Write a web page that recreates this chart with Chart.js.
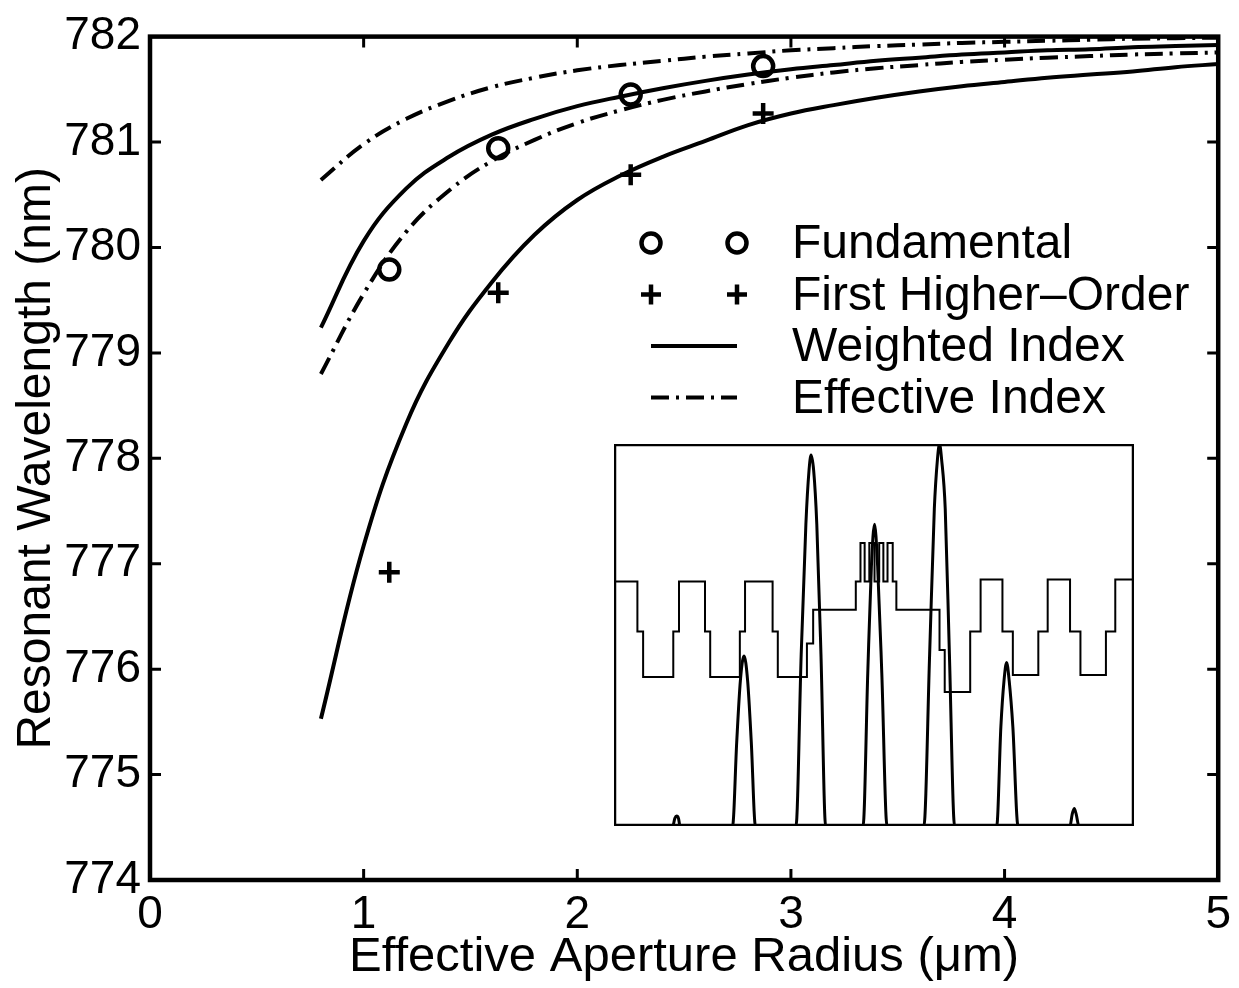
<!DOCTYPE html>
<html>
<head>
<meta charset="utf-8">
<script src="https://cdn.jsdelivr.net/npm/chart.js@4.4.1/dist/chart.umd.min.js"></script>
<style>
  body { margin: 0; background: #fff; }
  #wrap { position: relative; width: 1239px; height: 988px; }
  #main { position: absolute; left: 0; top: 0; }
  #inset { position: absolute; left: 614px; top: 444px; background: #fff; }
</style>
</head>
<body>
<div id="wrap">
  <canvas id="main" width="1239" height="988"></canvas>
  <canvas id="inset" width="520" height="382"></canvas>
</div>
<script>
// measured points
var fundX = [1.12, 1.63, 2.25, 2.87];
var fundY = [779.79, 780.94, 781.45, 781.72];
var higherX = [1.12, 1.63, 2.25, 2.87];
var higherY = [776.92, 779.57, 780.69, 781.27];

// model curves, read every 0.2 um
var curveX        = [0.8, 1.0, 1.2, 1.4, 1.6, 1.8, 2.0, 2.2, 2.4, 2.6, 2.8, 3.0, 3.2, 3.4, 3.6, 3.8, 4.0, 4.2, 4.4, 4.6, 4.8, 5.0];
var weightedFund  = [779.24, 780.06, 780.56, 780.86, 781.07, 781.22, 781.34, 781.43, 781.51, 781.58, 781.64, 781.69, 781.73, 781.77, 781.80, 781.83, 781.85, 781.87, 781.88, 781.90, 781.91, 781.92];
var weightedHigh  = [775.53, 777.17, 778.33, 779.10, 779.67, 780.12, 780.45, 780.68, 780.86, 781.01, 781.16, 781.27, 781.35, 781.42, 781.48, 781.53, 781.57, 781.61, 781.64, 781.67, 781.71, 781.74];
var effectiveFund = [780.64, 780.98, 781.22, 781.39, 781.52, 781.61, 781.68, 781.73, 781.77, 781.81, 781.84, 781.87, 781.89, 781.91, 781.925, 781.94, 781.95, 781.96, 781.97, 781.98, 781.985, 781.99];
var effectiveHigh = [778.80, 779.56, 780.15, 780.54, 780.82, 781.02, 781.18, 781.30, 781.40, 781.48, 781.55, 781.61, 781.66, 781.70, 781.73, 781.76, 781.78, 781.80, 781.815, 781.83, 781.84, 781.85];

var xTicks = [0, 1, 2, 3, 4, 5];
var yTicks = [774, 775, 776, 777, 778, 779, 780, 781, 782];
var legendLabels = ['Fundamental', 'First Higher\u2013Order', 'Weighted Index', 'Effective Index'];
var xTitle = 'Effective Aperture Radius (\u03bcm)';
var yTitle = 'Resonant Wavelength (nm)';

// inset: index profile (steps) and mode intensity, arbitrary units 0..100
var profileX = [0, 4.5, 4.5, 5.6, 5.6, 11.4, 11.4, 12.5, 12.5, 17.5, 17.5, 18.5, 18.5, 24.2, 24.2, 25.2, 25.2, 30.5, 30.5, 31.5, 31.5, 37.1, 37.1, 38.3, 38.3, 46.5, 46.5, 47.4, 47.4, 48.2, 48.2, 49.1, 49.1, 50.1, 50.1, 51.0, 51.0, 51.8, 51.8, 52.6, 52.6, 53.6, 53.6, 54.3, 54.3, 62.6, 62.6, 63.6, 63.6, 68.5, 68.5, 70.5, 70.5, 74.7, 74.7, 76.7, 76.7, 81.6, 81.6, 83.4, 83.4, 87.7, 87.7, 89.7, 89.7, 94.6, 94.6, 96.4, 96.4, 100];
var profileY = [64, 64, 50.9, 50.9, 39, 39, 50.9, 50.9, 64, 64, 50.9, 50.9, 39, 39, 50.9, 50.9, 64, 64, 50.9, 50.9, 39, 39, 47.8, 47.8, 56.6, 56.6, 64, 64, 74.1, 74.1, 64, 64, 74.1, 74.1, 64, 64, 74.1, 74.1, 64, 64, 74.1, 74.1, 64, 64, 56.6, 56.6, 46.1, 46.1, 35.1, 35.1, 50.9, 50.9, 64.5, 64.5, 50.9, 50.9, 39.5, 39.5, 50.9, 50.9, 64.5, 64.5, 50.9, 50.9, 39.5, 39.5, 50.9, 50.9, 64.5, 64.5];
var modeX = [0, 11.3, 11.7, 12.05, 12.4, 12.7, 22.8, 23.6, 24.3, 25.0, 25.7, 26.4, 27.2, 35.0, 36.0, 36.9, 37.5, 37.9, 38.4, 39.0, 39.8, 40.7, 47.9, 48.8, 49.5, 50.1, 50.7, 51.5, 52.5, 59.6, 60.7, 61.6, 62.2, 62.6, 63.0, 63.7, 64.5, 65.5, 73.6, 74.4, 75.0, 75.5, 76.0, 76.7, 77.7, 87.7, 88.1, 88.5, 88.9, 89.4, 100];
var modeY = [0, 0, 2.0, 2.6, 2.0, 0, 0, 22.0, 38.0, 44.5, 38.0, 22.0, 0, 0, 45.0, 79.0, 93.0, 97.1, 93.0, 79.0, 45.0, 0, 0, 40.0, 68.0, 79.0, 68.0, 40.0, 0, 0, 45.0, 83.0, 96.0, 100, 96.0, 83.0, 45.0, 0, 0, 26.0, 38.0, 42.8, 38.0, 26.0, 0, 0, 3.0, 4.6, 3.0, 0, 0];

var FONT = '"Liberation Sans", Arial, Helvetica, sans-serif';
var DASHDOT = [18, 7, 3, 7];

function pts(xs, ys) {
    return xs.map(function (x, i) { return { x: x, y: ys[i] }; });
}

function curve(label, ys, dash) {
    return {
        label: label,
        data: pts(curveX, ys),
        showLine: true,
        borderColor: '#000',
        borderWidth: 4,
        borderDash: dash,
        pointRadius: 0,
        tension: 0.4,
        fill: false
    };
}

// box + inward ticks on all four sides
var framePlugin = {
    id: 'frame',
    afterDraw: function (chart) {
        var ctx = chart.ctx, a = chart.chartArea;
        var sx = chart.scales.x, sy = chart.scales.y;
        ctx.save();
        ctx.strokeStyle = '#000';
        ctx.lineWidth = 3;
        xTicks.forEach(function (v) {
            var px = sx.getPixelForValue(v);
            ctx.beginPath();
            ctx.moveTo(px, a.bottom); ctx.lineTo(px, a.bottom - 11);
            ctx.moveTo(px, a.top); ctx.lineTo(px, a.top + 11);
            ctx.stroke();
        });
        yTicks.forEach(function (v) {
            var py = sy.getPixelForValue(v);
            ctx.beginPath();
            ctx.moveTo(a.left, py); ctx.lineTo(a.left + 11, py);
            ctx.moveTo(a.right, py); ctx.lineTo(a.right - 11, py);
            ctx.stroke();
        });
        ctx.lineWidth = 4.5;
        ctx.strokeRect(a.left, a.top, a.right - a.left, a.bottom - a.top);
        ctx.restore();
    }
};

// matlab-style legend with no box
var legendPlugin = {
    id: 'mlegend',
    afterDatasetsDraw: function (chart) {
        var ctx = chart.ctx;
        var x1 = 651, x2 = 737, tx = 792;
        ctx.save();
        ctx.strokeStyle = '#000';
        ctx.fillStyle = '#000';
        ctx.font = '48px ' + FONT;
        ctx.textBaseline = 'middle';
        legendLabels.forEach(function (label, i) {
            var y = 243 + i * 51.5;
            ctx.setLineDash([]);
            ctx.lineWidth = 4.5;
            if (i === 0) {
                [x1, x2].forEach(function (x) {
                    ctx.beginPath(); ctx.arc(x, y, 9.5, 0, Math.PI * 2); ctx.stroke();
                });
            } else if (i === 1) {
                [x1, x2].forEach(function (x) {
                    ctx.beginPath();
                    ctx.moveTo(x - 10, y); ctx.lineTo(x + 10, y);
                    ctx.moveTo(x, y - 10); ctx.lineTo(x, y + 10);
                    ctx.stroke();
                });
            } else {
                ctx.lineWidth = 4;
                if (i === 3) ctx.setLineDash(DASHDOT);
                ctx.beginPath(); ctx.moveTo(x1, y); ctx.lineTo(x2, y); ctx.stroke();
            }
            ctx.fillText(label, tx, y + 2);
        });
        ctx.restore();
    }
};

var mainChart = new Chart(document.getElementById('main'), {
    type: 'scatter',
    data: {
        datasets: [
            { label: 'Fundamental', data: pts(fundX, fundY), pointStyle: 'circle', pointRadius: 10, borderWidth: 4.5, borderColor: '#000', backgroundColor: 'rgba(0,0,0,0)' },
            { label: 'First Higher-Order', data: pts(higherX, higherY), pointStyle: 'cross', pointRadius: 10.5, borderWidth: 4.5, borderColor: '#000' },
            curve('Weighted Index (fund)', weightedFund, []),
            curve('Weighted Index (higher)', weightedHigh, []),
            curve('Effective Index (fund)', effectiveFund, DASHDOT),
            curve('Effective Index (higher)', effectiveHigh, DASHDOT)
        ]
    },
    options: {
        responsive: false,
        animation: false,
        layout: { padding: { top: 29, right: 14, left: 0, bottom: 0 } },
        plugins: { legend: { display: false }, tooltip: { enabled: false } },
        scales: {
            x: {
                type: 'linear', min: 0, max: 5,
                afterBuildTicks: function (s) { s.ticks = xTicks.map(function (v) { return { value: v }; }); },
                afterFit: function (s) { s.height = 108; },
                grid: { display: false, drawTicks: false },
                border: { display: false },
                ticks: { padding: 8, color: '#000', font: { family: FONT, size: 46 } },
                title: { display: true, text: xTitle, color: '#000', font: { family: FONT, size: 49 }, padding: { top: 0, bottom: 1 } }
            },
            y: {
                type: 'linear', min: 774, max: 782,
                afterBuildTicks: function (s) { s.ticks = yTicks.map(function (v) { return { value: v }; }); },
                afterFit: function (s) { s.width = 150; },
                grid: { display: false, drawTicks: false },
                border: { display: false },
                ticks: { padding: 9, color: '#000', font: { family: FONT, size: 46 } },
                title: { display: true, text: yTitle, color: '#000', font: { family: FONT, size: 48 }, padding: { top: 8, bottom: 0 } }
            }
        }
    },
    plugins: [framePlugin, legendPlugin]
});

var insetBox = {
    id: 'insetBox',
    afterDraw: function (chart) {
        var ctx = chart.ctx, a = chart.chartArea;
        ctx.save();
        ctx.strokeStyle = '#000';
        ctx.lineWidth = 2.5;
        ctx.strokeRect(a.left + 1, a.top + 1, a.right - a.left - 2, a.bottom - a.top - 2);
        ctx.restore();
    }
};

var insetChart = new Chart(document.getElementById('inset'), {
    type: 'scatter',
    data: {
        datasets: [
            { label: 'mode', data: pts(modeX, modeY), showLine: true, borderColor: '#000', borderWidth: 3, pointRadius: 0, cubicInterpolationMode: 'monotone' },
            { label: 'index', data: pts(profileX, profileY), showLine: true, borderColor: '#000', borderWidth: 2, pointRadius: 0, tension: 0 }
        ]
    },
    options: {
        responsive: false,
        animation: false,
        layout: { padding: 0 },
        plugins: { legend: { display: false }, tooltip: { enabled: false } },
        scales: {
            x: { type: 'linear', min: 0, max: 100, display: false },
            y: { type: 'linear', min: 0, max: 100, display: false }
        }
    },
    plugins: [insetBox]
});
</script>
</body>
</html>
